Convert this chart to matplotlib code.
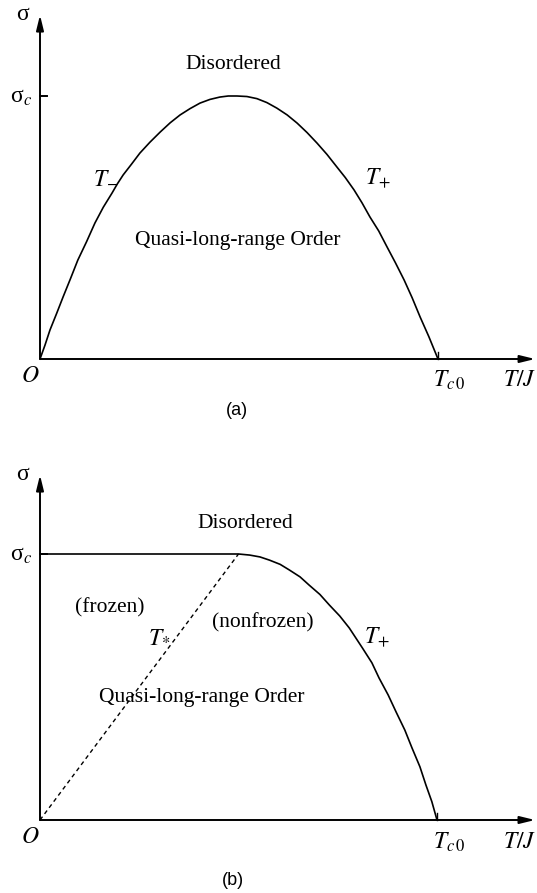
import matplotlib
matplotlib.use("Agg")
import matplotlib.pyplot as plt

plt.rcParams['font.family'] = ['Liberation Serif', 'DejaVu Serif']
plt.rcParams['mathtext.fontset'] = 'stix'

# (a) phase boundary sigma(T), T in units of T_c0, sigma in units of sigma_c
T_a = [0.0, 0.0126, 0.025, 0.042, 0.058, 0.077, 0.095, 0.117, 0.138, 0.159,
       0.181, 0.194, 0.209, 0.230, 0.251, 0.276, 0.302, 0.327, 0.352, 0.377,
       0.402, 0.427, 0.452, 0.473, 0.495, 0.520, 0.545, 0.570, 0.595, 0.621,
       0.646, 0.671, 0.696, 0.721, 0.746, 0.767, 0.789, 0.809, 0.829, 0.851,
       0.872, 0.893, 0.915, 0.935, 0.955, 0.977, 1.0]
sig_a = [0.0, 0.053, 0.11, 0.174, 0.236, 0.307, 0.376, 0.446, 0.517, 0.577,
         0.631, 0.665, 0.70, 0.741, 0.783, 0.824, 0.863, 0.898, 0.928, 0.952,
         0.973, 0.987, 0.996, 1.0, 1.0, 0.998, 0.99, 0.975, 0.954, 0.928,
         0.897, 0.861, 0.821, 0.778, 0.73, 0.69, 0.643, 0.594, 0.54, 0.487,
         0.426, 0.366, 0.30, 0.233, 0.16, 0.085, 0.0]

# (b) flat part up to T_*, then the T_+ branch down to T_c0
T_star = 0.5
T_b = [0.0, 0.5, 0.528, 0.554, 0.578, 0.605, 0.628, 0.655, 0.678, 0.705,
       0.729, 0.755, 0.779, 0.812, 0.836, 0.854, 0.877, 0.897, 0.919, 0.937,
       0.957, 0.972, 0.987, 1.0]
sig_b = [1.0, 1.0, 0.996, 0.989, 0.977, 0.961, 0.94, 0.914, 0.883, 0.848,
         0.808, 0.767, 0.722, 0.647, 0.591, 0.534, 0.470, 0.406, 0.338, 0.271,
         0.200, 0.132, 0.069, 0.0]

W, H = 537, 893
fig = plt.figure(figsize=(W / 100, H / 100), dpi=100)


def make_axes(ox, oy, sx, sy):
    # origin (ox, oy) in pixels from the top-left, sx/sy pixels per unit
    ax = fig.add_axes([ox / W, 0, (W - ox) / W, 1])
    ax.set_xlim(0, (W - ox) / sx)
    ax.set_ylim(-(H - oy) / sy, oy / sy)
    ax.axis('off')
    return ax


def draw_frame(ax, xtip, ytip):
    arrow = dict(arrowstyle='-|>,head_length=0.9,head_width=0.22',
                 lw=1.4, color='k', shrinkA=0, shrinkB=0)
    ax.annotate('', xy=(xtip, 0), xytext=(0, 0), arrowprops=arrow)
    ax.annotate('', xy=(0, ytip), xytext=(0, 0), arrowprops=arrow)
    ax.plot([0, 0.018], [1, 1], color='k', lw=1.4, clip_on=False)
    ax.plot([1, 1], [0, 0.025], color='k', lw=1.0, clip_on=False)
    ax.text(-0.043, ytip, 'σ', fontsize=17, ha='center', va='center')
    ax.text(-0.02, 0.996, 'σ$_c$', fontsize=17, ha='right', va='center')
    ax.text(-0.025, -0.065, '$O$', fontsize=17, ha='center', va='center')


fs = 15.5
curve = dict(color='k', lw=1.2, solid_joinstyle='round')

# panel (a)
ax1 = make_axes(40, 359, 398, 263)
draw_frame(ax1, 1.244, 1.308)
ax1.plot(T_a, sig_a, **curve)
ax1.text(0.485, 1.12, 'Disordered', fontsize=fs, ha='center', va='center')
ax1.text(0.165, 0.69, '$T_{-}$', fontsize=17, ha='center', va='center')
ax1.text(0.85, 0.69, '$T_{+}$', fontsize=17, ha='center', va='center')
ax1.text(0.497, 0.452, 'Quasi-long-range Order', fontsize=fs,
         ha='center', va='center')
ax1.text(1.028, -0.08, '$T_{c\\,0}$', fontsize=17, ha='center', va='center')
ax1.text(1.206, -0.08, '$T/J$', fontsize=17, ha='center', va='center')
ax1.text(0.495, -0.194, '(a)', fontsize=13, ha='center', va='center',
         family='Liberation Sans')

# panel (b)
ax2 = make_axes(40, 820, 397, 266)
draw_frame(ax2, 1.247, 1.297)
ax2.plot(T_b, sig_b, **curve)
ax2.plot([0, T_star], [0, 1], color='k', lw=1.0, linestyle=(0, (3, 2.5)))
ax2.text(0.516, 1.115, 'Disordered', fontsize=fs, ha='center', va='center')
ax2.text(0.176, 0.797, '(frozen)', fontsize=fs, ha='center', va='center')
ax2.text(0.30, 0.69, '$T_{*}$', fontsize=17, ha='center', va='center')
ax2.text(0.562, 0.741, '(nonfrozen)', fontsize=fs, ha='center', va='center')
ax2.text(0.849, 0.688, '$T_{+}$', fontsize=17, ha='center', va='center')
ax2.text(0.408, 0.459, 'Quasi-long-range Order', fontsize=fs,
         ha='center', va='center')
ax2.text(1.03, -0.083, '$T_{c\\,0}$', fontsize=17, ha='center', va='center')
ax2.text(1.209, -0.083, '$T/J$', fontsize=17, ha='center', va='center')
ax2.text(0.486, -0.226, '(b)', fontsize=13, ha='center', va='center',
         family='Liberation Sans')

fig.savefig('out.png', dpi=100, facecolor='white')
